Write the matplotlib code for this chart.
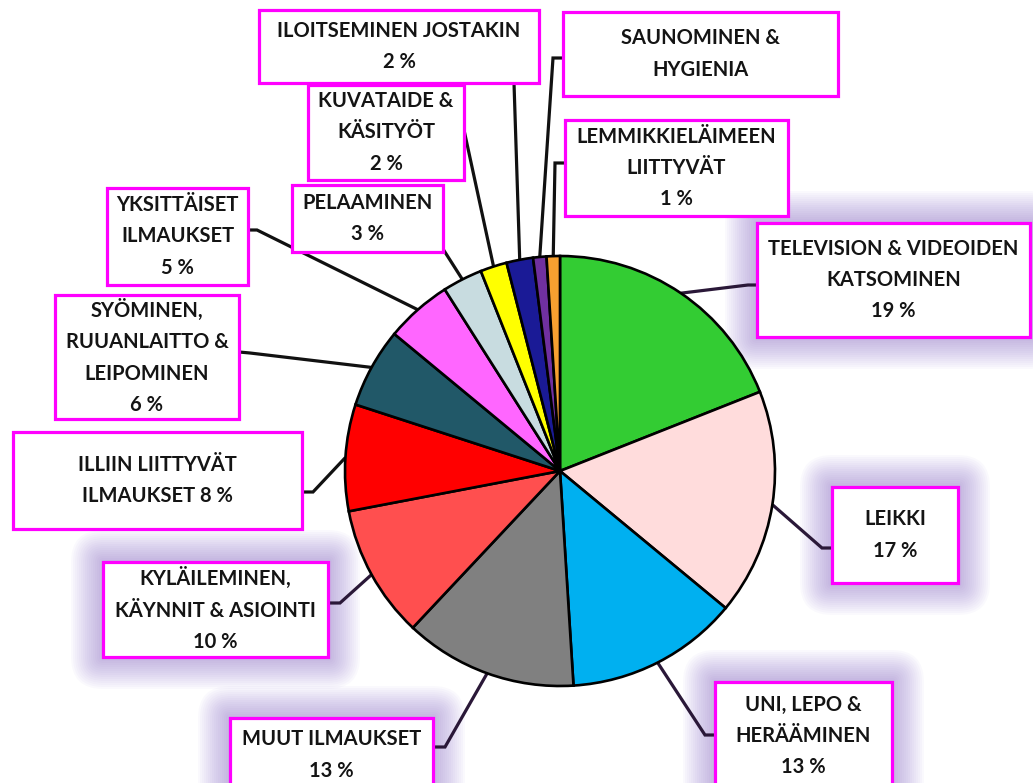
import matplotlib
matplotlib.use("Agg")
import matplotlib.pyplot as plt
from matplotlib.patches import Rectangle, FancyBboxPatch
import numpy as np

plt.rcParams['font.family'] = ['Lato', 'DejaVu Sans']

# ---------------- data ----------------
categories = [
    "TELEVISION & VIDEOIDEN\nKATSOMINEN",
    "LEIKKI",
    "UNI, LEPO &\nHERÄÄMINEN",
    "MUUT ILMAUKSET",
    "KYLÄILEMINEN,\nKÄYNNIT & ASIOINTI",
    "ILLIIN LIITTYVÄT\nILMAUKSET",
    "SYÖMINEN,\nRUUANLAITTO &\nLEIPOMINEN",
    "YKSITTÄISET\nILMAUKSET",
    "PELAAMINEN",
    "KUVATAIDE &\nKÄSITYÖT",
    "ILOITSEMINEN JOSTAKIN",
    "SAUNOMINEN &\nHYGIENIA",
    "LEMMIKKIELÄIMEEN\nLIITTYVÄT",
]
values = [19, 17, 13, 13, 10, 8, 6, 5, 3, 2, 2, 1, 1]
pct_labels = ["19 %", "17 %", "13 %", "13 %", "10 %", "8 %", "6 %", "5 %",
              "3 %", "2 %", "2 %", "", "1 %"]
colors = ["#33cc33", "#ffdcdc", "#00b0f0", "#808080", "#ff4f4f", "#ff0000",
          "#215868", "#ff66ff", "#c8dce0", "#ffff00", "#1a1a96", "#7030a0",
          "#f7a030"]

# ---------------- layout (pixel coordinates, y down) ----------------
W, H = 1033, 783
CX, CY, R = 560, 471, 215
layout = [
    dict(box=(757, 1030, 223, 337), anchor=(757, 285), elbow=(748, 285), glow=True),
    dict(box=(832, 958, 487, 583), anchor=(832, 548), elbow=(822, 548), glow=True),
    dict(box=(715, 892, 682, 792), anchor=(715, 735), elbow=(705, 735), glow=True),
    dict(box=(230, 433, 718, 792), anchor=(433, 747), elbow=(445, 747), glow=True),
    dict(box=(103, 328, 562, 657), anchor=(328, 603), elbow=(340, 603), glow=True),
    dict(box=(13, 302, 432, 529), anchor=(302, 492), elbow=(313, 492), glow=False, inline=True),
    dict(box=(55, 239, 295, 419), anchor=(239, 352), elbow=(250, 353), glow=False),
    dict(box=(107, 248, 188, 285), anchor=(248, 230), elbow=(257, 230), glow=False),
    dict(box=(292, 443, 185, 252), anchor=(443, 249), elbow=None, glow=False),
    dict(box=(308, 464, 85, 180), anchor=(464, 130), elbow=None, glow=False),
    dict(box=(259, 539, 10, 83), anchor=(514, 83), elbow=None, glow=False),
    dict(box=(563, 838, 12, 96), anchor=(563, 58), elbow=(553, 58), glow=False),
    dict(box=(565, 788, 120, 216), anchor=(565, 163), elbow=(555, 163), glow=False),
]

def Y(y):
    return H - y

fig = plt.figure(figsize=(W / 100, H / 100), dpi=100)
ax = fig.add_axes([0, 0, 1, 1])

wedges, _ = ax.pie(values, colors=colors, startangle=90, counterclock=False,
                   center=(CX, Y(CY)), radius=R,
                   wedgeprops=dict(edgecolor="black", linewidth=1.9))
for w in wedges:
    w.set_zorder(3)

ax.set_xlim(0, W)
ax.set_ylim(0, H)
ax.set_aspect("equal")
ax.axis("off")

glow_color = "#7a58c4"
for i, (w, lay) in enumerate(zip(wedges, layout)):
    x0, x1, y0, y1 = lay["box"]
    if lay["glow"]:
        n = 16
        for k in range(1, n + 1):
            d = k * 2.0
            p = FancyBboxPatch((x0, Y(y1)), x1 - x0, y1 - y0,
                               boxstyle=f"round,pad={d},rounding_size={d}",
                               facecolor=glow_color, edgecolor="none",
                               alpha=0.032, zorder=0.5)
            ax.add_patch(p)
    ax.add_patch(Rectangle((x0, Y(y1)), x1 - x0, y1 - y0, facecolor="white",
                           edgecolor="#ff00ff", linewidth=2.3, zorder=4))
    mid = np.deg2rad((w.theta1 + w.theta2) / 2.0)
    ex, ey = CX + R * np.cos(mid), Y(CY) + R * np.sin(mid)
    pts = [(ex, ey)]
    if lay["elbow"] is not None:
        pts.append((lay["elbow"][0], Y(lay["elbow"][1])))
    pts.append((lay["anchor"][0], Y(lay["anchor"][1])))
    xs, ys = zip(*pts)
    lc = "#2a1838" if lay["glow"] else "#111111"
    ax.plot(xs, ys, color=lc, linewidth=2.3, zorder=2,
            solid_capstyle="butt", solid_joinstyle="miter")
    if lay.get("inline"):
        txt = categories[i] + " " + pct_labels[i]
    elif pct_labels[i]:
        txt = categories[i] + "\n" + pct_labels[i]
    else:
        txt = categories[i]
    ty = (y0 + min(y1, H + 10)) / 2.0
    if i == 2:
        ty = 736
    if i == 3:
        ty = 755
    ax.text((x0 + x1) / 2.0, Y(ty), txt, ha="center", va="center",
            fontsize=14.5, fontweight="bold", color="#141414",
            linespacing=1.7, zorder=5)

fig.savefig("out.png", dpi=100)
